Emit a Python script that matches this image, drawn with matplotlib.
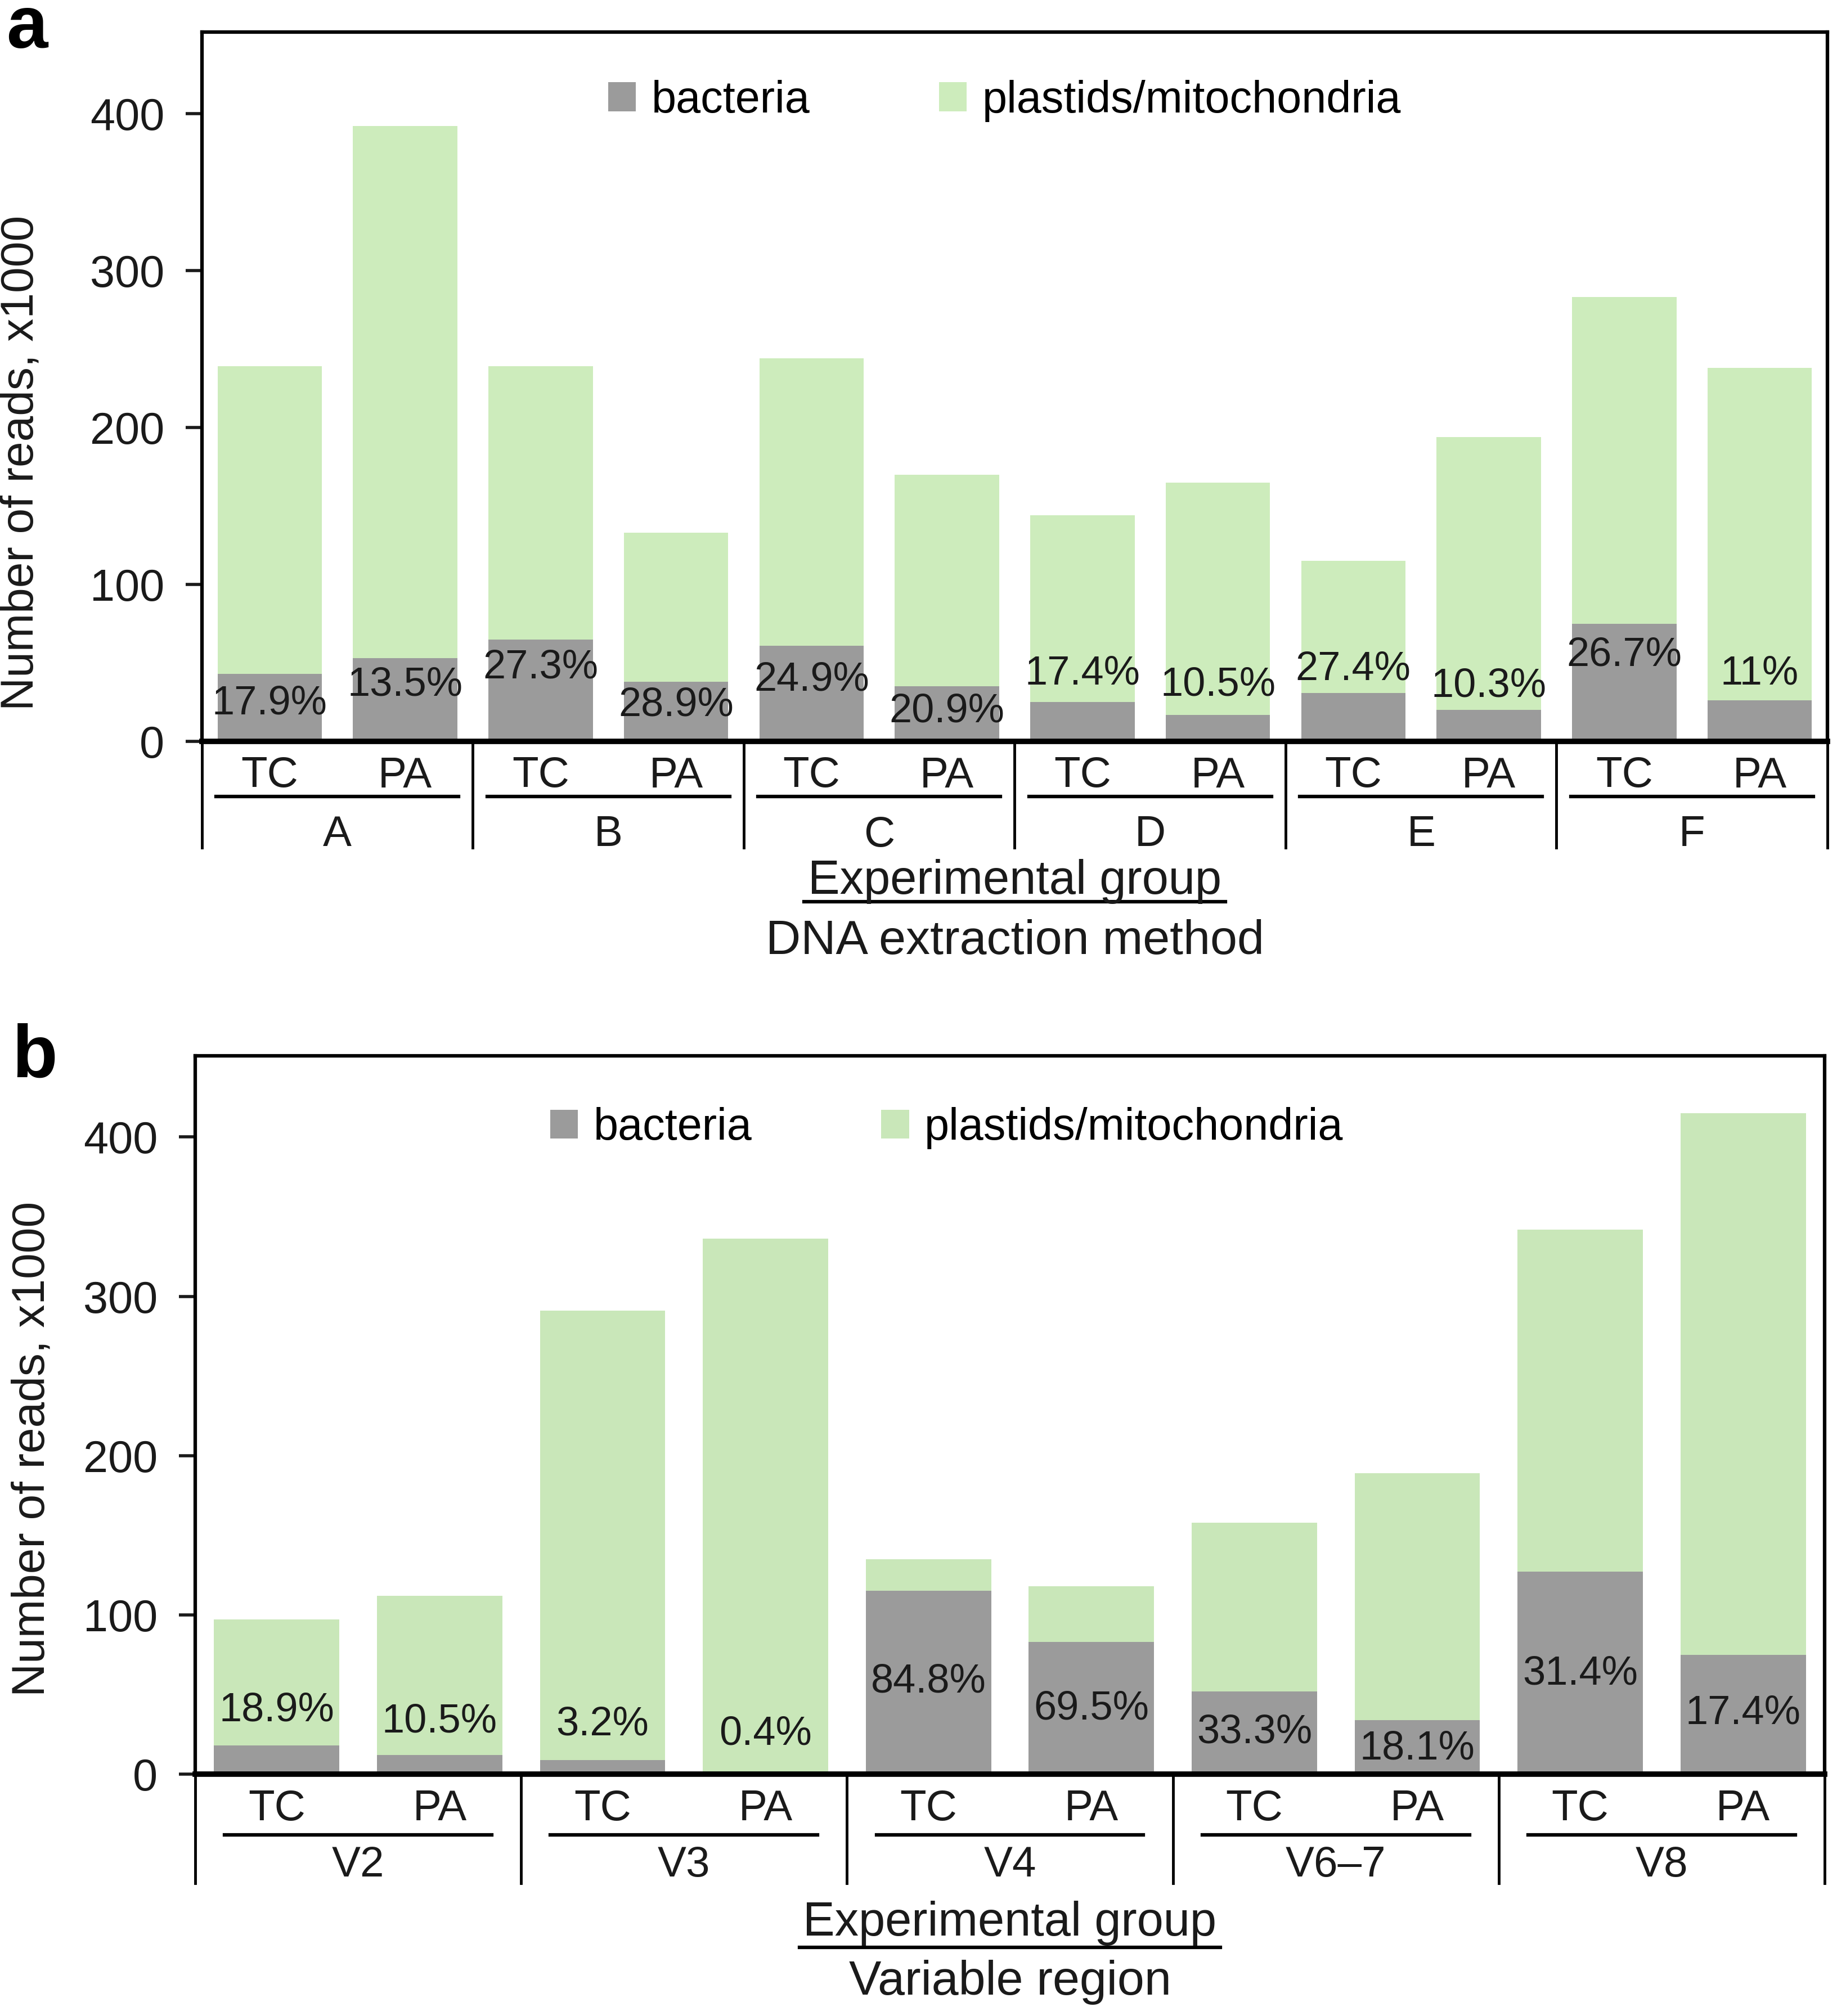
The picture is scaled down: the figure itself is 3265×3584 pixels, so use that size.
import matplotlib
matplotlib.use("Agg")
import matplotlib.pyplot as plt
from matplotlib.patches import Patch
from matplotlib.lines import Line2D
from matplotlib.transforms import blended_transform_factory

plt.rcParams['font.family'] = ['Liberation Sans', 'DejaVu Sans']

# ---------------- data ----------------
groups_a = ["A", "B", "C", "D", "E", "F"]
groups_b = ["V2", "V3", "V4", "V6\u20137", "V8"]
methods = ["TC", "PA"]

bact_a = [43, 53, 65, 38, 61, 35, 25, 17, 31, 20, 75, 26]
plast_a = [196, 339, 174, 95, 183, 135, 119, 148, 84, 174, 208, 212]
pct_a = ["17.9%", "13.5%", "27.3%", "28.9%", "24.9%", "20.9%",
         "17.4%", "10.5%", "27.4%", "10.3%", "26.7%", "11%"]
pct_y_a = [24, 36, 47, 23, 39, 19, 43, 36, 46, 35, 55, 43]

bact_b = [18, 12, 9, 1.3, 115, 83, 52, 34, 127, 75]
plast_b = [79, 100, 282, 335, 20, 35, 106, 155, 215, 340]
pct_b = ["18.9%", "10.5%", "3.2%", "0.4%", "84.8%", "69.5%",
         "33.3%", "18.1%", "31.4%", "17.4%"]
pct_y_b = [40, 33, 31, 25, 58, 41, 26, 16, 63, 38]

yticks = [0, 100, 200, 300, 400]

GRAY = "#9b9b9b"
GREEN_A = "#cdecbc"
GREEN_B = "#c9e7b9"

W, H = 3266, 3584
fig = plt.figure(figsize=(W / 100, H / 100), dpi=100)


def fy(px):
    return 1 - px / H


def panel(rect, groups, bact, plast, pcts, pcty, green, ylim_top,
          y_tcpa, y_uline, y_group, y_sep, y_xl1, y_xl_ul, y_xl2, xl2,
          leg_anchor, letter, letter_xy, uline_inset, ylab_xy):
    ax = fig.add_axes(rect)
    n = len(bact)
    xs = list(range(n))
    ax.bar(xs, bact, width=0.77, color=GRAY, linewidth=0, zorder=2)
    ax.bar(xs, plast, width=0.77, bottom=bact, color=green, linewidth=0, zorder=2)
    for x, t, y in zip(xs, pcts, pcty):
        ax.text(x, y, t, ha="center", va="center", fontsize=52, color="#1a1a1a", zorder=3)
    ax.set_xlim(-0.5, n - 0.5)
    ax.set_ylim(0, ylim_top)
    ax.set_yticks(yticks)
    ax.set_xticks([])
    ax.tick_params(axis="y", direction="out", length=21, width=4, pad=27,
                   labelsize=57, colors="#1a1a1a")
    for s in ["left", "right", "top"]:
        ax.spines[s].set_linewidth(4.5)
    ax.spines["bottom"].set_linewidth(7)
    ax.set_ylabel("Number of reads, x1000", fontsize=59, color="#1a1a1a")
    ax.yaxis.set_label_coords(*ylab_xy)

    tr = blended_transform_factory(ax.transData, fig.transFigure)
    ax_bottom = rect[1]
    # separators
    for g in range(len(groups) + 1):
        xb = -0.5 + 2 * g
        fig.add_artist(Line2D([xb, xb], [ax_bottom, fy(y_sep)], transform=tr,
                              color="black", linewidth=3.5))
    for g, name in enumerate(groups):
        x0 = 2 * g
        for k, m in enumerate(methods):
            fig.text(x0 + k, fy(y_tcpa), m, transform=tr, ha="center", va="center",
                     fontsize=55, color="#1a1a1a")
        fig.add_artist(Line2D([x0 - 0.5 + uline_inset, x0 + 1.5 - uline_inset],
                              [fy(y_uline), fy(y_uline)], transform=tr,
                              color="black", linewidth=4.5))
        fig.text(x0 + 0.5, fy(y_group), name, transform=tr, ha="center", va="center",
                 fontsize=55, color="#1a1a1a")
    cx = rect[0] + rect[2] / 2
    t1 = fig.text(cx, fy(y_xl1), "Experimental group", ha="center", va="center",
                  fontsize=61, color="#1a1a1a")
    fig.text(cx, fy(y_xl2), xl2, ha="center", va="center", fontsize=62, color="#1a1a1a")

    handles = [Patch(facecolor=GRAY, edgecolor="none", label="bacteria"),
               Patch(facecolor=green, edgecolor="none", label="plastids/mitochondria")]
    ax.legend(handles=handles, loc="center left", bbox_to_anchor=leg_anchor, ncol=2,
              frameon=False, fontsize=57, handlelength=0.62, handleheight=0.62,
              handletextpad=0.35, columnspacing=2.9, borderpad=0, borderaxespad=0)
    fig.text(letter_xy[0] / W, fy(letter_xy[1]), letter, ha="center", va="center",
             fontsize=95, fontweight="bold")
    return t1, y_xl_ul


ra = [359 / W, 1 - 1318 / H, (3248 - 359) / W, (1318 - 57) / H]
rb = [347 / W, 1 - 3154 / H, (3243 - 347) / W, (3154 - 1877) / H]

ta = panel(ra, groups_a, bact_a, plast_a, pct_a, pct_y_a, GREEN_A, 452,
           1380, 1416, 1485, 1507, 1567, 1603, 1674, "DNA extraction method",
           (0.25, 0.903), "a", (48, 50), 0.105, (-0.098, 0.393))
tb = panel(rb, groups_b, bact_b, plast_b, pct_b, pct_y_b, GREEN_B, 451,
           3216, 3262, 3316, 3348, 3419, 3462, 3524, "Variable region",
           (0.218, 0.899), "b", (62, 1880), 0.18, (-0.087, 0.453))

fig.canvas.draw()
r = fig.canvas.get_renderer()
for t, yul in (ta, tb):
    bb = t.get_window_extent(r)
    fig.add_artist(Line2D([bb.x0 / W - 0.002, bb.x1 / W + 0.002], [fy(yul), fy(yul)],
                          transform=fig.transFigure, color="black", linewidth=4.5))

fig.savefig("out.png", dpi=100, facecolor="white")
